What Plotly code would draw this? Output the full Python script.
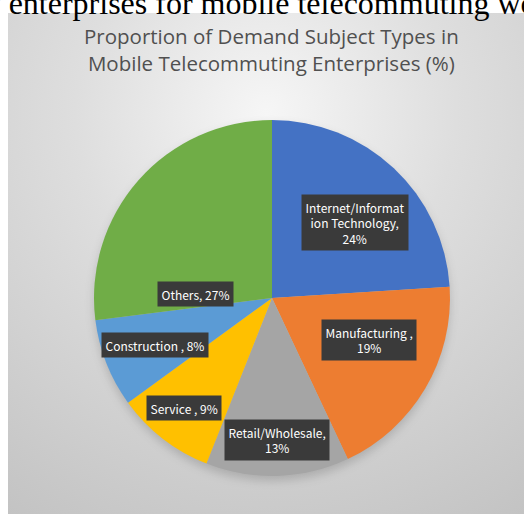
import base64
import math
import plotly.graph_objects as go

# ---- data ----
categories = ["Internet/Information Technology", "Manufacturing", "Retail/Wholesale",
              "Service", "Construction", "Others"]
values = [24, 19, 13, 9, 8, 27]
label_names = ["Internet/Informat<br>ion Technology,", "Manufacturing ,", "Retail/Wholesale,",
               "Service ,", "Construction ,", "Others,"]
label_seps = ["<br>", "<br>", "<br>", " ", " ", " "]
title_text = "Proportion of Demand Subject Types in<br>Mobile Telecommuting Enterprises (%)"
top_text = "of enterprises for mobile telecommuting work"

# ---- style ----
colors = ["#4472C4", "#ED7D31", "#A5A5A5", "#FFC000", "#5B9BD5", "#70AD47"]
W, H = 524, 514
CX, CY, R = 272, 298, 178          # pie centre / radius in px
PX0, PY0 = 8, 13                   # panel top-left in px
label_r = [0.63, 0.594, 0.80, 0.79, 0.71, 0.43]
label_dtheta = [4.3, -7.2, -0.4, 1.0, -0.3, -38.4]

pw, ph = W - PX0, H - PY0
svg = f'''<svg xmlns="http://www.w3.org/2000/svg" width="{pw}" height="{ph}" viewBox="0 0 {pw} {ph}">
<defs>
<radialGradient id="g" cx="{pw/2}" cy="{ph*0.2}" r="{ph*0.95}" gradientUnits="userSpaceOnUse">
<stop offset="0" stop-color="#f6f6f6"/>
<stop offset="0.4" stop-color="#dedede"/>
<stop offset="1" stop-color="#c3c3c3"/>
</radialGradient>
<filter id="b" x="-20%" y="-20%" width="140%" height="140%"><feGaussianBlur stdDeviation="5"/></filter>
</defs>
<rect width="100%" height="100%" fill="url(#g)"/>
<circle cx="{CX-PX0}" cy="{CY-PY0+5}" r="{R}" fill="#000" fill-opacity="0.16" filter="url(#b)"/>
</svg>'''
svg_uri = "data:image/svg+xml;base64," + base64.b64encode(svg.encode()).decode()

fig = go.Figure()
fig.add_trace(go.Pie(
    labels=categories, values=values, sort=False, direction="clockwise", rotation=0,
    marker=dict(colors=colors, line=dict(width=0)),
    textinfo="none", hoverinfo="label+percent", showlegend=False,
    domain=dict(x=[(CX - R) / W, (CX + R) / W], y=[1 - (CY + R) / H, 1 - (CY - R) / H]),
))

annotations = []
total = sum(values)
cum = 0
for i, v in enumerate(values):
    mid = (cum + v / 2) / total * 360 + label_dtheta[i]
    cum += v
    th = math.radians(mid)
    x = CX + label_r[i] * R * math.sin(th)
    y = CY - label_r[i] * R * math.cos(th)
    annotations.append(dict(
        x=x / W, y=1 - y / H, xref="paper", yref="paper", showarrow=False,
        text=f"{label_names[i]}{label_seps[i]}{v}%",
        font=dict(family="Noto Sans CJK SC", size=12, color="white"),
        bgcolor="#3a3a3a", borderpad=3.5, align="center",
        xanchor="center", yanchor="middle",
    ))

annotations.append(dict(
    x=271 / W, y=1 - 49 / H, xref="paper", yref="paper", showarrow=False,
    text=title_text, font=dict(family="Open Sans", size=20.5, color="#505050"),
    xanchor="center", yanchor="middle", align="center",
))
annotations.append(dict(
    x=-27.7 / W, y=1 - 3.5 / H, xref="paper", yref="paper", showarrow=False,
    text=top_text, font=dict(family="Liberation Serif", size=32, color="black"),
    xanchor="left", yanchor="middle",
))

fig.update_layout(
    width=W, height=H, margin=dict(l=0, r=0, t=0, b=0),
    paper_bgcolor="white", plot_bgcolor="white",
    annotations=annotations,
    images=[dict(source=svg_uri, xref="paper", yref="paper", x=PX0 / W, y=1 - PY0 / H,
                 sizex=pw / W, sizey=ph / H, sizing="stretch", xanchor="left", yanchor="top",
                 layer="below")],
)
fig.write_html("out.html")
